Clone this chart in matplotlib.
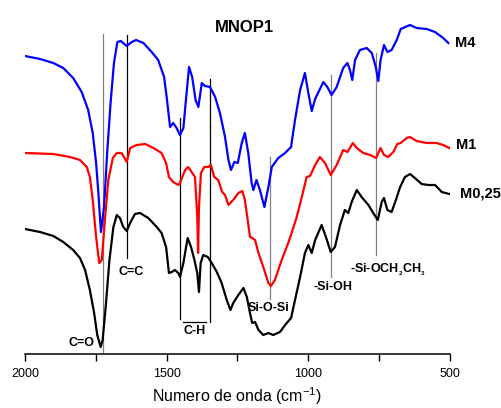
import matplotlib
matplotlib.use('Agg')
import matplotlib.pyplot as plt
from matplotlib.ticker import FixedLocator

plt.rcParams['font.family'] = ['Liberation Sans', 'DejaVu Sans']
plt.rcParams['mathtext.fontset'] = 'custom'
plt.rcParams['mathtext.rm'] = 'Liberation Sans:bold'
plt.rcParams['mathtext.bf'] = 'Liberation Sans:bold'

# FTIR spectra, wavenumber (cm-1) vs transmittance (arbitrary, offset)
wn_m4 = [2000, 1947, 1900, 1865, 1830, 1800, 1777, 1761, 1749, 1740, 1732, 1721, 1710, 1698,
         1686, 1674, 1662, 1641, 1623, 1608, 1582, 1553, 1530, 1509, 1500, 1488, 1477, 1465,
         1453, 1441, 1433, 1421, 1410, 1398, 1388, 1376, 1365, 1347, 1329, 1312, 1294, 1282,
         1273, 1261, 1249, 1235, 1224, 1212, 1200, 1194, 1183, 1171, 1155, 1141, 1129, 1106,
         1082, 1061, 1047, 1029, 1012, 1000, 988, 976, 947, 933, 918, 900, 877, 862, 853, 845,
         835, 818, 794, 776, 762, 753, 745, 733, 721, 706, 688, 674, 641, 618, 582, 553, 524, 506]
t_m4 = [298, 295, 291, 286, 276, 262, 244, 221, 191, 157, 122, 147, 201, 251,
        291, 312, 313, 308, 312, 314, 311, 302, 294, 277, 257, 227, 231, 226,
        219, 226, 251, 287, 277, 254, 247, 271, 268, 267, 257, 241, 217, 194,
        184, 192, 191, 211, 221, 201, 171, 164, 174, 164, 147, 167, 187, 196,
        201, 207, 234, 264, 281, 261, 243, 255, 272, 267, 259, 267, 286, 291, 284, 274,
        294, 304, 306, 301, 287, 273, 294, 309, 302, 304, 314, 325, 329, 326, 325, 322, 316, 311]

wn_m1 = [2000, 1900, 1841, 1806, 1782, 1771, 1761, 1749, 1738, 1729, 1718, 1706, 1690, 1676,
         1659, 1651, 1641, 1629, 1606, 1576, 1547, 1518, 1502, 1492, 1477, 1459, 1453, 1435,
         1424, 1412, 1400, 1392, 1389, 1386, 1379, 1367, 1353, 1344, 1332, 1318, 1304, 1294,
         1282, 1265, 1247, 1233, 1224, 1214, 1206, 1198, 1188, 1176, 1159, 1141, 1132, 1118,
         1094, 1071, 1059, 1041, 1023, 1006, 994, 976, 959, 941, 921, 900, 877, 862, 843, 829,
         806, 782, 761, 745, 733, 718, 700, 686, 674, 653, 641, 618, 582, 547, 524, 502]
t_m1 = [201, 200, 197, 194, 187, 177, 154, 117, 91, 94, 134, 174, 196, 201,
        201, 197, 192, 206, 209, 210, 206, 201, 191, 177, 172, 169, 171, 184,
        187, 182, 177, 137, 101, 147, 181, 187, 187, 189, 177, 174, 162, 159,
        149, 154, 161, 163, 154, 134, 117, 116, 114, 101, 87, 71, 68, 74,
        94, 111, 121, 137, 157, 177, 178, 189, 197, 191, 179, 189, 204, 202, 211, 206,
        201, 199, 196, 206, 199, 197, 202, 210, 211, 216, 217, 213, 211, 211, 209, 206]

wn_m025 = [2000, 1947, 1900, 1865, 1830, 1806, 1788, 1771, 1756, 1745, 1733, 1726, 1714, 1702,
           1688, 1676, 1665, 1653, 1641, 1629, 1612, 1594, 1565, 1535, 1518, 1502, 1492, 1482,
           1471, 1459, 1453, 1441, 1426, 1414, 1402, 1392, 1386, 1380, 1371, 1355, 1341, 1323,
           1306, 1288, 1275, 1265, 1247, 1229, 1217, 1206, 1198, 1188, 1176, 1159, 1141, 1124,
           1100, 1082, 1061, 1047, 1029, 1012, 1000, 988, 976, 953, 938, 921, 906, 888, 871, 859,
           847, 829, 812, 788, 771, 755, 741, 733, 721, 706, 691, 676, 659, 641, 624, 600, 577,
           553, 529, 502]
t_m025 = [125, 122, 118, 112, 104, 96, 84, 64, 41, 19, 7, 14, 51, 94,
          127, 139, 136, 127, 123, 131, 140, 141, 136, 127, 121, 107, 81, 82,
          84, 81, 77, 91, 116, 107, 94, 81, 62, 91, 99, 97, 91, 82,
          71, 54, 44, 51, 59, 66, 57, 41, 31, 32, 24, 19, 21, 19,
          22, 29, 36, 54, 77, 101, 109, 101, 114, 129, 117, 102, 107, 129, 144, 141,
          152, 164, 157, 149, 141, 134, 152, 156, 144, 142, 154, 167, 177, 180, 176, 170, 169,
          169, 162, 160]

# band markers: wavenumber, line top, line bottom, colour
bands = [(1725, 320, 2, '#808080'), (1640, 319, 96, 'black'), (1453, 236, 35, 'black'),
         (1347, 275, 32, 'black'), (1134, 197, 55, '#808080'), (920, 279, 77, '#808080'),
         (761, 301, 99, '#808080')]

fig = plt.figure(figsize=(5.02, 4.08), dpi=100)
ax = fig.add_axes([25 / 502, 54 / 408, 425 / 502, 354 / 408])

for w, top, bot, c in bands:
    ax.plot([w, w], [bot, top], color=c, lw=0.9, zorder=1)

ax.plot(wn_m4, t_m4, color='#0000FF', lw=1.6, zorder=2)
ax.plot(wn_m1, t_m1, color='#FF0000', lw=1.6, zorder=2)
ax.plot(wn_m025, t_m025, color='black', lw=1.6, zorder=2)

# overline above the C-H label
ax.plot([1441, 1361], [32, 32], color='black', lw=0.9)

lab = dict(fontsize=9, fontweight='bold', ha='center', va='center')
ax.text(1802, 11, 'C=O', **lab)
ax.text(1625, 82, 'C=C', **lab)
ax.text(1400, 23, 'C-H', **lab)
ax.text(1139, 46, 'Si-O-Si', **lab)
ax.text(913, 67, '-Si-OH', **lab)
ax.text(721, 84, r'-Si-OCH$_{_2}$CH$_{_3}$', **lab)

ser = dict(fontsize=10.5, fontweight='bold', ha='center', va='center', clip_on=False)
ax.text(445, 311, 'M4', **ser)
ax.text(444, 209, 'M1', **ser)
ax.text(394, 161, 'M0,25', **ser)

ax.text(1224, 327, 'MNOP1', fontsize=12, fontweight='bold', ha='center', va='center')

ax.set_xlim(2000, 500)
ax.set_ylim(0, 354)
ax.xaxis.set_major_locator(FixedLocator([2000, 1500, 1000, 500]))
ax.xaxis.set_minor_locator(FixedLocator([1750, 1250, 750]))
ax.tick_params(axis='x', which='both', direction='out', length=5, width=1, labelsize=9, pad=5)
ax.set_yticks([])
for s in ['top', 'left', 'right']:
    ax.spines[s].set_visible(False)
ax.spines['bottom'].set_linewidth(1.1)
ax.set_xlabel(r'Numero de onda (cm$^{\mathregular{-1}}$)', fontsize=11.5, labelpad=4)
ax.patch.set_alpha(0)

fig.savefig('out.png', dpi=100)
